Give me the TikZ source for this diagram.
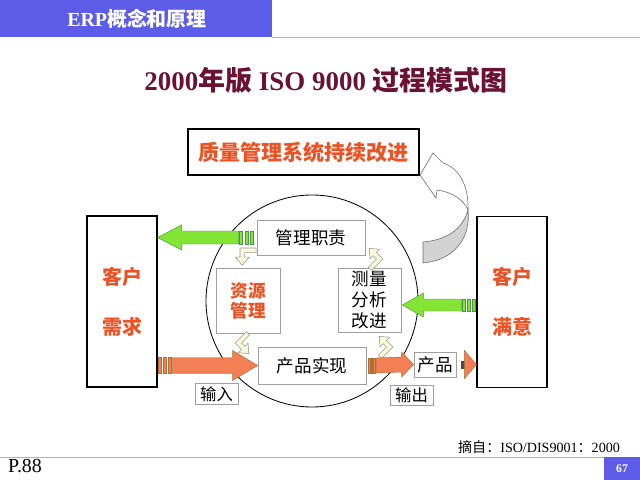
\documentclass[tikz,border=0pt]{standalone}
\usepackage{fontspec}
\setmainfont{Liberation Serif}
\newfontfamily\cjk{Noto Sans CJK SC}
\usetikzlibrary{calc}
\definecolor{hdrblue}{RGB}{92,92,232}
\definecolor{titlered}{RGB}{106,18,52}
\definecolor{txtorange}{RGB}{235,82,36}
\definecolor{arrorange}{RGB}{242,128,84}
\definecolor{arrgreen}{RGB}{132,228,52}
\definecolor{cycfill}{RGB}{250,248,215}

% fat horizontal arrow: style, tail, tip, head offset, head half, shaft half
\newcommand{\bigarrow}[6]{%
  \filldraw[#1] ($(#2)+(0,-#6)$) -- ($(#3)+(#4,-#6)$) -- ($(#3)+(#4,-#5)$) -- (#3)
    -- ($(#3)+(#4,#5)$) -- ($(#3)+(#4,#6)$) -- ($(#2)+(0,#6)$) -- cycle;}
% stripes at the tail: style, offsets, origin, half height, width
\newcommand{\stripes}[5]{%
  \foreach \s in {#2}
    \filldraw[#1] ($(#3)+({\s},-#4)$) rectangle ($(#3)+({\s+#5},#4)$);}
% small bent arrow of the cycle
\newcommand{\cyclearrow}[2]{%
  \begin{scope}[shift={(#1)},rotate=#2,scale=1.15]
    \filldraw[cycarrow] (14,0) -- (0,0) -- (0,8) -- (-4,8) -- (2,15) -- (8,8)
      -- (4,8) -- (4,4) -- (14,4) -- cycle;
  \end{scope}}

\begin{document}
\begin{tikzpicture}[x=0.03cm,y=-0.03cm,
    outerbox/.style={draw=black, line width=0.9pt, fill=white, inner sep=0pt},
    custbox/.style={outerbox, minimum width=2.1cm, minimum height=5.13cm, align=center,
      text=txtorange, font=\cjk\bfseries\fontsize{17}{43}\selectfont},
    innerbox/.style={draw=gray!75, line width=0.6pt, fill=white, inner sep=0pt, align=center,
      font=\cjk\fontsize{15}{18}\selectfont},
    tagbox/.style={draw=gray!75, line width=0.6pt, fill=white, inner sep=0pt,
      font=\cjk\fontsize{14}{16}\selectfont},
    greenarr/.style={fill=arrgreen, draw=green!40!black!70, line width=0.4pt},
    orangearr/.style={fill=arrorange, draw=orange!60!black!80, line width=0.4pt},
    cycarrow/.style={fill=cycfill, draw=gray!80, line width=0.5pt},
    curvearr/.style={draw=gray!85!black, line width=0.5pt}]
\useasboundingbox (0,0) rectangle (640,480);

% header and title
\fill[hdrblue] (0,0) rectangle (272,37);
\draw[gray!60, line width=0.6pt] (272,37) -- (640,37);
\node[text=white, font=\bfseries\fontsize{17}{20}\selectfont] (hdr) at (137,19) {ERP{\cjk 概念和原理}};
\node[text=titlered, font=\bfseries\fontsize{23}{27}\selectfont] (title) at (326,80)
  {2000{\cjk 年版} ISO 9000 {\cjk 过程模式图}};

% boxes
\node[outerbox, line width=1.1pt, minimum width=6.93cm, minimum height=1.38cm, text=txtorange,
  font=\cjk\bfseries\fontsize{18}{20}\selectfont] (qms) at (303.5,152) {质量管理系统持续改进};
\node[custbox] (lneed) at (122,301.5) {客户\\需求};
\node[custbox] (rsat) at (512,302) {客户\\满意};

\node[draw, circle, line width=0.7pt, minimum size=6.36cm] (cyc) at (312,301) {};
\node[innerbox, minimum width=3.24cm, minimum height=1.05cm] (mgmt) at (311,237.5) {管理职责};
\node[innerbox, minimum width=1.92cm, minimum height=1.95cm, text=txtorange,
  font=\cjk\bfseries\fontsize{15}{17}\selectfont] (res) at (248,300.5) {资源\\管理};
\node[innerbox, minimum width=1.89cm, minimum height=1.92cm] (meas) at (369.5,300) {测量\\分析\\改进};
\node[innerbox, minimum width=3.24cm, minimum height=1.11cm] (real) at (312,365.5) {产品实现};
\node[tagbox, minimum width=1.29cm, minimum height=0.64cm] (inp) at (216.5,394) {输入};
\node[tagbox, minimum width=1.29cm, minimum height=0.6cm] (outp) at (411.5,395) {输出};
\node[tagbox, minimum width=1.26cm, minimum height=0.75cm,
  font=\cjk\fontsize{15}{17}\selectfont] (prod) at (435,364.5) {产品};

% cycle arrows
\cyclearrow{240,248}{0}
\cyclearrow{235,343}{45}
\cyclearrow{383,259}{225}
\cyclearrow{393,347}{225}

% green arrows
\coordinate (gltip) at (lneed.east |- mgmt.west);
\coordinate (gltail) at ($(mgmt.west)+(-18,0)$);
\bigarrow{greenarr}{gltail}{gltip}{24}{12.5}{6.5}
\stripes{greenarr}{-17,-11.5,-6}{mgmt.west}{6.5}{3}

\coordinate (grtip) at ($(meas.east)+(1,5)$);
\coordinate (grend) at (rsat.west |- grtip);
\coordinate (grtail) at ($(grend)+(-15,0)$);
\bigarrow{greenarr}{grtail}{grtip}{21}{12}{6}
\stripes{greenarr}{-14,-9,-4}{grend}{6}{3}

% orange arrows
\coordinate (oin) at (lneed.east |- real.west);
\coordinate (ointail) at ($(oin)+(15,0)$);
\bigarrow{orangearr}{ointail}{real.west}{-25}{15}{8}
\stripes{orangearr}{1,6,11}{oin}{8}{3}

\coordinate (omtail) at ($(real.east)+(10,0)$);
\bigarrow{orangearr}{omtail}{prod.west}{-12}{12.5}{7.5}
\stripes{orangearr}{2,4.5,7}{real.east}{7.5}{1.5}

\coordinate (ortip) at (rsat.west |- prod.east);
\fill[black!70] ($(prod.east)+(5,-4)$) rectangle ($(prod.east)+(9,4)$);
\filldraw[orangearr] ($(ortip)+(-12,-14)$) -- (ortip) -- ($(ortip)+(-12,14)$) -- cycle;

% curved improvement arrow
\filldraw[curvearr, fill=gray!35] (423,242) .. controls (448,240) and (463,228) .. (468,210)
  .. controls (471,236) and (456,260) .. (423,263) -- cycle;
\filldraw[curvearr, fill=white] (468,210) .. controls (469,186) and (459,168) .. (443,163)
  -- (433,153) -- (420,175) -- (436,198) -- (437,190)
  .. controls (452,192) and (464,200) .. (468,210) -- cycle;

% footer
\draw[gray!60, line width=0.6pt] (0,457) -- (604,457);
\node[font=\fontsize{12}{14}\selectfont] (src) at (539,447) {{\cjk 摘自：}ISO/DIS9001{\cjk ：}2000};
\node[font=\fontsize{17}{20}\selectfont] (page) at (25,466) {P.88};
\fill[hdrblue] (604,457) rectangle (640,480);
\node[text=white, font=\bfseries\fontsize{10}{12}\selectfont] (num) at (622,469) {67};
\end{tikzpicture}
\end{document}
